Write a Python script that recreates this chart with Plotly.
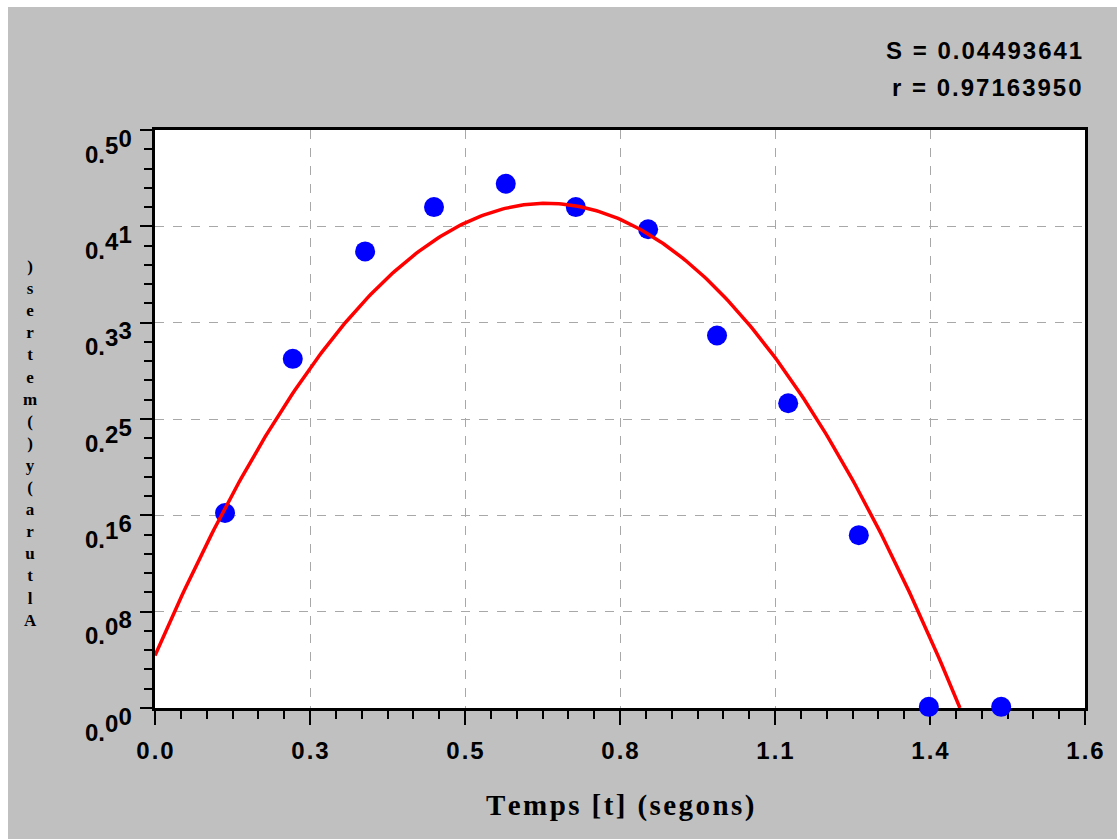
import numpy as np
import plotly.graph_objects as go

# ---- data ----
t_points = [0.122, 0.240, 0.366, 0.486, 0.611, 0.733, 0.859, 0.979, 1.103, 1.226, 1.348, 1.474]
y_points = [0.167, 0.299, 0.391, 0.429, 0.449, 0.429, 0.410, 0.319, 0.261, 0.148, 0.001, 0.001]

# quadratic fit coefficients y = a + b t + c t^2
fit_a, fit_b, fit_c = 0.0449, 1.136, -0.833

x_tickvals = [0.0, 0.27, 0.54, 0.81, 1.08, 1.35, 1.62]
x_ticktext = ["0.0", "0.3", "0.5", "0.8", "1.1", "1.4", "1.6"]
y_tickvals = [0.0, 0.0825, 0.165, 0.2475, 0.33, 0.4125, 0.495]
y_ticktext = ["0.00", "0.08", "0.16", "0.25", "0.33", "0.41", "0.50"]

stat_S = "S = 0.04493641"
stat_r = "r = 0.97163950"
x_title = "Temps [t] (segons)"
y_title = "Altura (y) (metres)"

HS = "\u200a"
def spaced(s):
    return HS.join(list(s))

def rising(s):
    # first two chars on the baseline, the next ones raised step by step
    return (s[:2] + "<span style='baseline-shift:9px'>" + s[2] + "</span>"
            + "<span style='baseline-shift:16px'>" + s[3] + "</span>")

# ---- fit curve ----
root = max(np.roots([fit_c, fit_b, fit_a]).real)
tc = np.linspace(0, root, 300)
yc = fit_a + fit_b * tc + fit_c * tc ** 2

W, H = 1117, 839
L, R, T, B = 155, 1085, 130, 708
pw, ph = R - L, B - T

fig = go.Figure()
fig.add_trace(go.Scatter(x=t_points, y=y_points, mode="markers",
                         marker=dict(color="#0000ff", size=20, line=dict(width=0)),
                         cliponaxis=False, showlegend=False))
fig.add_trace(go.Scatter(x=tc, y=yc, mode="lines",
                         line=dict(color="#ff0000", width=3.5), showlegend=False))

tickfont = dict(family="Liberation Sans, Arial, sans-serif", size=24, color="#000000", weight="bold")

annotations = []
# y tick labels with a rising baseline
for v, s in zip(y_tickvals, y_ticktext):
    annotations.append(dict(x=0, xref="paper", y=v, yref="y", text=rising(s), showarrow=False,
                            xanchor="right", yanchor="middle",
                            xshift=-21, yshift=-16, font=tickfont))

# y title: upright characters stacked bottom to top (one text block)
stack = "<br>".join(ch for ch in reversed(y_title) if ch != " ")
annotations.append(dict(x=(30 - L) / pw, xref="paper", y=(B - 443) / ph, yref="paper",
                        text=stack, showarrow=False, xanchor="center", yanchor="middle",
                        align="center",
                        font=dict(family="Liberation Serif, Times New Roman, serif", size=17,
                                  color="#000000", weight="bold")))

# x title
annotations.append(dict(x=(620 - L) / pw, xref="paper", y=(B - 805) / ph, yref="paper",
                        text=spaced(x_title), showarrow=False, xanchor="center", yanchor="middle",
                        font=dict(family="Liberation Serif, Times New Roman, serif", size=29,
                                  color="#000000", weight="bold")))
# stats
for txt, py in [(stat_S, 50), (stat_r, 87)]:
    annotations.append(dict(x=(1084 - L) / pw, xref="paper", y=(B - py) / ph, yref="paper",
                            text=spaced(txt), showarrow=False, xanchor="right", yanchor="middle",
                            font=tickfont))

shapes = [
    dict(type="rect", xref="paper", yref="paper", x0=-1, x1=(8 - L) / pw, y0=-1, y1=2,
         fillcolor="#ffffff", line=dict(width=0), layer="below"),
    dict(type="rect", xref="paper", yref="paper", x0=-1, x1=2, y0=(B - 7) / ph, y1=2,
         fillcolor="#ffffff", line=dict(width=0), layer="below"),
]

fig.update_layout(
    width=W, height=H,
    margin=dict(l=L, r=W - R, t=T, b=H - B, pad=0),
    paper_bgcolor="#c0c0c0", plot_bgcolor="#ffffff",
    annotations=annotations, shapes=shapes,
    showlegend=False,
)
fig.update_xaxes(
    range=[0, 1.62], tickmode="array", tickvals=x_tickvals, ticktext=[spaced(s) for s in x_ticktext],
    ticks="outside", ticklen=14, tickwidth=2, tickcolor="#000000",
    tickfont=tickfont, ticklabelstandoff=5,
    showline=True, linecolor="#000000", linewidth=3, mirror=True,
    showgrid=True, gridcolor="#a8a8a8", griddash="dash", gridwidth=1,
    zeroline=False, layer="below traces",
    minor=dict(dtick=0.045, tick0=0, ticks="outside", ticklen=8, tickwidth=2,
               tickcolor="#000000", showgrid=False),
)
fig.update_yaxes(
    range=[0, 0.495], tickmode="array", tickvals=y_tickvals, ticktext=y_ticktext,
    showticklabels=False,
    ticks="outside", ticklen=12, tickwidth=2, tickcolor="#000000",
    showline=True, linecolor="#000000", linewidth=3, mirror=True,
    showgrid=True, gridcolor="#a8a8a8", griddash="dash", gridwidth=1,
    zeroline=False, layer="below traces",
    minor=dict(dtick=0.0165, tick0=0, ticks="outside", ticklen=8, tickwidth=2,
               tickcolor="#000000", showgrid=False),
)

fig.write_html("out.html")
